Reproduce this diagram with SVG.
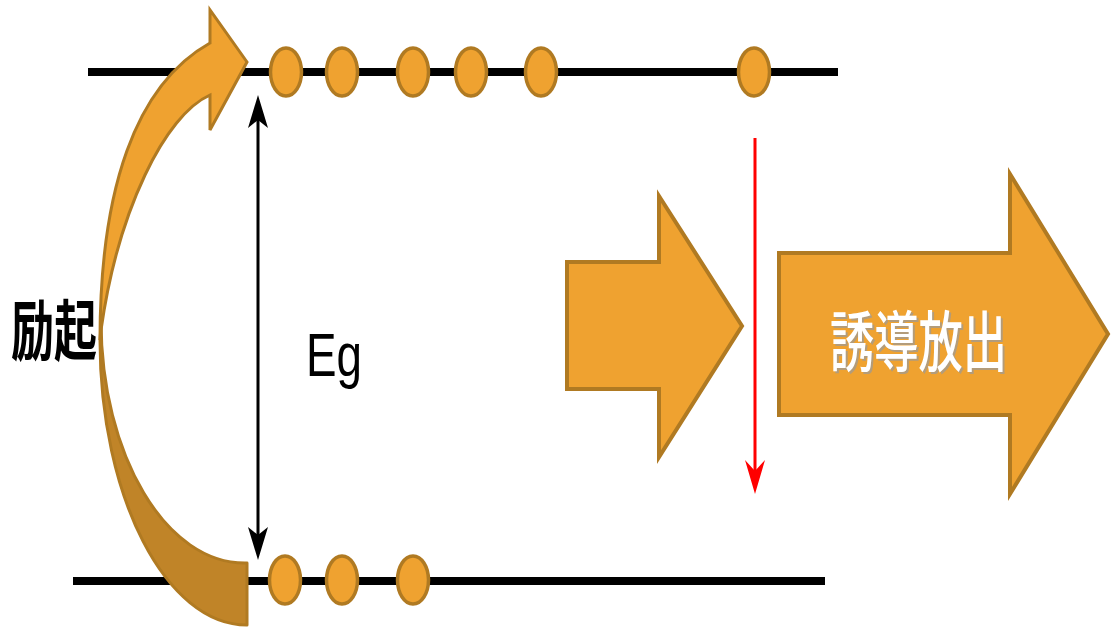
<svg xmlns="http://www.w3.org/2000/svg" width="1111" height="628" viewBox="0 0 1111 628">
  <style>
    .level { stroke: #000; stroke-width: 8; fill: none; }
    .carrier { fill: #EFA230; stroke: #B07A22; stroke-width: 3.5; }
    .block { fill: #EFA230; stroke: #B07A22; stroke-width: 4; stroke-linejoin: miter; }
    .label { font-family: "Liberation Sans", "Noto Sans CJK JP", sans-serif; }
  </style>
  <rect width="1111" height="628" fill="#fff"/>

  <!-- energy levels -->
  <g id="levels">
    <line class="level" x1="88" y1="72" x2="838" y2="72"/>
    <line class="level" x1="73" y1="581" x2="825" y2="581"/>
  </g>

  <!-- excitation: curved arrow from lower to upper level -->
  <g id="excitation-arrow">
    <path d="M247,563 L247,625 C166,625 100,497 100,340 C101,330 101,325 101,320 C101,455 166,565 247,563 Z"
          fill="#C08428" stroke="#B07A22" stroke-width="3" stroke-linejoin="round"/>
    <path d="M100,340 C100,190 135,85 210,43 L210,10 L247,62 L210,130 L210,95 C165,115 118,210 101,330 Z"
          fill="#EFA230" stroke="#B07A22" stroke-width="3" stroke-linejoin="miter"/>
  </g>

  <!-- carriers on the upper level -->
  <g id="upper-carriers">
    <ellipse class="carrier" cx="286" cy="72" rx="15.5" ry="24"/>
    <ellipse class="carrier" cx="342" cy="72" rx="15.5" ry="24"/>
    <ellipse class="carrier" cx="413" cy="72" rx="15.5" ry="24"/>
    <ellipse class="carrier" cx="471" cy="72" rx="15.5" ry="24"/>
    <ellipse class="carrier" cx="541" cy="72" rx="15.5" ry="24"/>
    <ellipse class="carrier" cx="754" cy="72" rx="15.5" ry="24"/>
  </g>

  <!-- carriers on the lower level -->
  <g id="lower-carriers">
    <ellipse class="carrier" cx="285" cy="580" rx="15.5" ry="24"/>
    <ellipse class="carrier" cx="342" cy="580" rx="15.5" ry="24"/>
    <ellipse class="carrier" cx="413" cy="580" rx="15.5" ry="24"/>
  </g>

  <!-- connectors: band gap and transition -->
  <g id="connectors">
    <line x1="258" y1="112" x2="258" y2="545" stroke="#000" stroke-width="3"/>
    <path d="M258,95 L268,128 L258,120 L248,128 Z" fill="#000"/>
    <path d="M258,560 L268,527 L258,535 L248,527 Z" fill="#000"/>
    <line x1="755" y1="138" x2="755" y2="478" stroke="#FF0000" stroke-width="3"/>
    <path d="M755,494 L765,460 L755,471 L745,460 Z" fill="#FF0000"/>
  </g>

  <!-- incoming photon -->
  <g id="incident-arrow">
    <path class="block" d="M567,262 L659,262 L659,196 L742,326 L659,457 L659,389 L567,389 Z"/>
  </g>

  <!-- emitted light -->
  <g id="emission-arrow">
    <path class="block" d="M779,253 L1010,253 L1010,174 L1108,334 L1010,494 L1010,415 L779,415 Z"/>
    <text class="label" x="832" y="368" font-size="66" font-weight="500" fill="#9A9A9A" opacity="0.7"
          textLength="177" lengthAdjust="spacingAndGlyphs">誘導放出</text>
    <text class="label" x="830" y="366" font-size="66" font-weight="500" fill="#FFFFFF"
          textLength="177" lengthAdjust="spacingAndGlyphs">誘導放出</text>
  </g>

  <!-- labels -->
  <g id="label-excite">
    <text class="label" x="11" y="355" font-size="66" font-weight="bold" fill="#000"
          textLength="86" lengthAdjust="spacingAndGlyphs">励起</text>
  </g>
  <g id="label-gap">
    <text class="label" x="306" y="376" font-size="62" fill="#000"
          textLength="56" lengthAdjust="spacingAndGlyphs">Eg</text>
  </g>
</svg>
